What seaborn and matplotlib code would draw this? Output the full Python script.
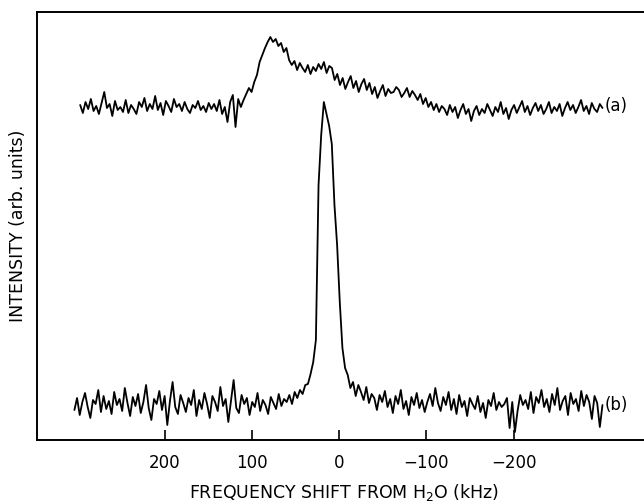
import numpy as np
import pandas as pd
import matplotlib
matplotlib.use("Agg")
import matplotlib.pyplot as plt
import seaborn as sns

# ---- data (intensity in arbitrary units) ----
freq_a_start, freq_a_end = 297.0, -302.0
trace_a = [
    335, 327, 338, 331, 341, 329, 334, 326, 337, 348, 332, 336, 324, 339, 330,
    333, 328, 340, 327, 335, 331, 326, 338, 333, 342, 329, 336, 331, 344, 330,
    337, 325, 339, 334, 328, 341, 333, 336, 329, 338, 331, 327, 335, 332, 339,
    330, 334, 328, 337, 331, 336, 329, 340, 326, 333, 318, 338, 345, 313, 341,
    # rise
    333, 340, 346, 352, 348, 358, 365, 378, 385, 392, 398, 403,
    # peak region
    398, 401, 394, 397, 388, 392, 380,
    375, 379, 370, 377, 372, 368, 375, 366, 373, 369, 376, 371, 378, 367, 374,
    372, 360, 366, 355, 362, 351, 358, 364, 352, 359, 348, 356, 361, 350, 357,
    346, 353, 342, 349, 355, 344, 351, 347, 348, 353, 350, 343,
    347, 352, 343, 349, 345, 340, 346, 336, 342, 333, 338, 330, 336, 328, 334,
    331, 325, 335, 328, 333, 322, 330, 336, 326, 331, 319, 329, 334, 325, 331,
    327, 336, 330, 324, 333, 328, 338, 326, 332, 321, 330, 335, 327, 333, 339,
    328, 334, 325, 332, 337, 329, 335, 326, 331, 338, 327, 333, 329, 336, 324,
    332, 338, 330, 335, 327, 333, 340, 329, 334, 326, 337, 331, 328, 336, 332,
]

freq_b_start, freq_b_end = 303.6, -302.0
trace_b = [
    30, 42, 25, 38, 47, 33, 22, 40, 36, 50, 28, 44, 31, 39, 26, 48, 35, 41, 29,
    52, 37, 24, 43, 34, 46, 27, 38, 55, 32, 20, 41, 36, 49, 30, 44, 15, 39, 58,
    33, 26, 45, 37, 28, 42, 35, 50, 24, 40, 31, 47, 36, 22, 44, 38, 29, 53, 34,
    41, 18, 39, 60, 32, 27, 45, 36, 42, 25, 38, 33, 47, 29, 40, 35, 26, 43, 37,
    31, 46, 34, 41, 38, 45, 36, 48, 42, 50, 46, 55,
    # water peak
    56, 66, 78, 100, 255, 305, 338, 326, 314, 296, 235, 195, 138, 92, 72,
    # after peak
    65, 52, 58, 44, 55, 48, 40, 53, 37, 46, 42, 30, 45, 38, 49, 33, 41, 27, 44,
    36, 50, 31, 39, 25, 43, 35, 47, 32, 40, 28, 38, 46, 34, 52, 37, 29, 43, 35,
    48, 30, 41, 26, 45, 33, 39, 24, 42, 36, 31, 44, 28, 37, 22, 40, 34, 47, 30,
    38, 33, 36, 42, 12, 38, 8, 29, 45, 35, 40, 31, 48, 27, 43, 37, 50, 33, 41,
    28, 46, 35, 52, 30, 39, 44, 25, 47, 36, 41, 29, 49, 34, 45, 38, 21, 44, 37,
    13, 35,
]

xticks = [200, 100, 0, -100, -200]
trace_labels = ["(a)", "(b)"]

freq_a = np.linspace(freq_a_start, freq_a_end, len(trace_a))
freq_b = np.linspace(freq_b_start, freq_b_end, len(trace_b))
df = pd.concat([
    pd.DataFrame({"freq": freq_a, "intensity": trace_a, "trace": "a"}),
    pd.DataFrame({"freq": freq_b, "intensity": trace_b, "trace": "b"}),
])

sns.set_style("white")
plt.rcParams["font.family"] = ["DejaVu Sans"]
plt.rcParams["text.color"] = "black"
plt.rcParams["axes.labelcolor"] = "black"

fig = plt.figure(figsize=(6.44, 5.04), dpi=100)
ax = fig.add_axes([37 / 644, 64 / 504, 1 - 37 / 644 + 0.01, (440 - 12) / 504])

sns.lineplot(data=df, x="freq", y="intensity", units="trace", estimator=None,
             sort=False, color="black", linewidth=1.3, ax=ax, legend=False)

ax.set_xlim(346.5, -357)
ax.set_ylim(0, 428)

ax.set_xticks(xticks)
ax.set_xticklabels([f"{t}".replace("-", "\u2212") for t in xticks], fontsize=12)
ax.tick_params(axis="x", direction="in", length=7, width=1.2, bottom=True,
               pad=10, colors="black", labelcolor="black")
ax.set_yticks([])

for side in ["left", "bottom", "top"]:
    ax.spines[side].set_visible(True)
    ax.spines[side].set_color("black")
    ax.spines[side].set_linewidth(1.4)
ax.spines["right"].set_visible(False)

ax.set_xlabel("FREQUENCY SHIFT FROM H$_2$O (kHz)", fontsize=12.5, labelpad=7,
              color="black")
ax.set_ylabel("INTENSITY (arb. units)", fontsize=12.5, labelpad=7,
              color="black")

ax.text(freq_a_end - 3, trace_a[-1] + 2, trace_labels[0], fontsize=12,
        va="center", ha="left", color="black")
ax.text(freq_b_end - 3, 35, trace_labels[1], fontsize=12,
        va="center", ha="left", color="black")

fig.savefig("out.png", dpi=100)
